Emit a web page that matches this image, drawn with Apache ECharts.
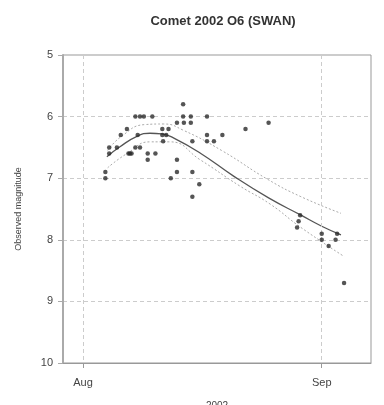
<!DOCTYPE html>
<html><head><meta charset="utf-8">
<script src="https://cdn.jsdelivr.net/npm/echarts@6/dist/echarts.min.js"></script>
<style>html,body{margin:0;padding:0;background:#fff}#c{width:384px;height:405px}</style>
</head><body><div id="c"></div>
<script>
// days since Aug 1 2002
var monthTicks = [0, 31];
var monthLabels = ['Aug', 'Sep'];
var yTicks = [5, 6, 7, 8, 9, 10];
var obsDays = [2.9,2.9,3.4,3.4,4.4,4.9,5.7,5.9,6.1,6.3,6.8,7.4,7.9,9.0,7.1,6.8,7.4,8.4,8.4,9.4,10.3,11.1,10.3,10.4,10.8,11.4,12.2,12.2,12.2,13.0,13.0,14.0,13.1,14.0,14.2,14.2,15.1,14.2,16.1,16.1,16.1,17.0,18.1,21.1,24.1,28.2,28.0,27.8,31.0,31.0,31.9,33.0,32.8,33.9];
var obsMag  = [7.0,6.9,6.6,6.5,6.5,6.3,6.2,6.6,6.6,6.6,6.0,6.0,6.0,6.0,6.3,6.5,6.5,6.6,6.7,6.6,6.2,6.2,6.3,6.4,6.3,7.0,6.1,6.7,6.9,5.8,6.0,6.0,6.1,6.1,6.4,6.9,7.1,7.3,6.0,6.3,6.4,6.4,6.3,6.2,6.1,7.6,7.7,7.8,7.9,8.0,8.1,7.9,8.0,8.7];
var fitDays = [3.1,4.8,7.0,8.7,10.2,11.8,15.2,19.6,24.1,28.3,31.0,33.5];
var fitMag  = [6.65,6.49,6.32,6.27,6.28,6.35,6.59,6.97,7.32,7.6,7.78,7.92];
var upDays = [3.2,5.0,8.0,10.5,13.0,18.0,24.0,28.3,33.5];
var upMag  = [6.55,6.32,6.13,6.12,6.22,6.55,7.02,7.3,7.57];
var loDays = [3.2,5.7,8.7,11.3,15.2,20.4,24.3,28.3,33.9];
var loMag  = [6.83,6.6,6.41,6.41,6.7,7.13,7.42,7.8,8.27];

function zip(a,b){return a.map(function(v,i){return [v,b[i]];});}
var font = 'Liberation Sans, Arial, sans-serif';
var chart = echarts.init(document.getElementById('c'));
chart.setOption({
  animation:false,
  title:{text:'Comet 2002 O6 (SWAN)',left:218,top:10,textAlign:'center',
    textStyle:{fontFamily:font,fontSize:13,fontWeight:'bold',color:'#333'}},
  grid:{left:63,right:13,top:55,bottom:42,show:true,borderColor:'#999',borderWidth:1,
    containLabel:false,outerBoundsMode:'none'},
  xAxis:{type:'value',min:-2.6,max:37.4,name:'2002',nameLocation:'middle',nameGap:38,
    nameTextStyle:{fontFamily:font,fontSize:10,color:'#444'},
    axisLine:{onZero:false,lineStyle:{color:'#999',width:1}},
    axisTick:{show:true,customValues:monthTicks,length:5,lineStyle:{color:'#999'}},
    axisLabel:{customValues:monthTicks,fontFamily:font,fontSize:11,color:'#444',margin:14,
      formatter:function(v){var i=monthTicks.indexOf(Math.round(v));return i>=0?monthLabels[i]:'';}},
    splitLine:{show:false}},
  yAxis:{type:'value',inverse:true,min:5,max:10,interval:1,name:'Observed magnitude',
    nameLocation:'middle',nameGap:40,nameTextStyle:{fontFamily:font,fontSize:9,color:'#444'},
    axisLine:{show:true,onZero:false,lineStyle:{color:'#aaa',width:2}},
    axisTick:{show:true,length:5,lineStyle:{color:'#aaa'}},
    axisLabel:{fontFamily:font,fontSize:11,color:'#444',margin:10,
      formatter:function(v){return yTicks.indexOf(v)>=0?String(v):'';}},
    splitLine:{show:true,lineStyle:{color:'#ccc',type:[4,3],width:1}}},
  series:[
    {type:'scatter',data:zip(obsDays,obsMag),symbol:'circle',symbolSize:4.5,
      itemStyle:{color:'#2a2a2a'},z:5,
      markLine:{silent:true,symbol:'none',label:{show:false},
        lineStyle:{color:'#ccc',type:[4,3],width:1},
        data:monthTicks.map(function(d){return {xAxis:d};})}},
    {type:'line',data:zip(fitDays,fitMag),smooth:true,showSymbol:false,
      lineStyle:{color:'#555',width:1.3},z:4},
    {type:'line',data:zip(upDays,upMag),smooth:true,showSymbol:false,
      lineStyle:{color:'#aaa',width:1,type:[2,2]},z:3},
    {type:'line',data:zip(loDays,loMag),smooth:true,showSymbol:false,
      lineStyle:{color:'#aaa',width:1,type:[2,2]},z:3}
  ]
});
</script></body></html>
